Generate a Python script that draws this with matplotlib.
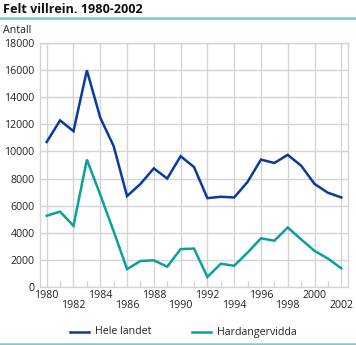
import matplotlib.pyplot as plt
from matplotlib.lines import Line2D

years = list(range(1980, 2003))
hele_landet = [10700, 12300, 11500, 16000, 12500, 10400, 6700, 7600, 8750, 8000,
               9650, 8850, 6550, 6650, 6600, 7750, 9400, 9150, 9750, 8950,
               7600, 6950, 6600]
hardangervidda = [5250, 5550, 4500, 9400, 6800, 4100, 1300, 1900, 1950, 1480,
                  2780, 2820, 720, 1700, 1550, 2520, 3580, 3400, 4380, 3500,
                  2650, 2080, 1360]
yticks = list(range(0, 18001, 2000))
xticks = list(range(1980, 2003, 2))

BLUE = "#0a3a9e"
TEAL = "#0aa09c"
RULE = "#78cccc"
GRID = "#d4d4d4"

W, H = 356, 345
fig = plt.figure(figsize=(W / 100, H / 100), dpi=100)
plt.rcParams["font.family"] = ["Open Sans", "DejaVu Sans"]

ax = fig.add_axes([40 / W, 1 - 286.7 / H, 308 / W, 243.4 / H])
ax.plot(years, hele_landet, color=BLUE, lw=1.8, solid_joinstyle="miter")
ax.plot(years, hardangervidda, color=TEAL, lw=1.8, solid_joinstyle="miter")

ax.set_xlim(1979.5, 2002.5)
ax.set_ylim(0, 18000)
ax.set_yticks(yticks)
ax.set_yticklabels([str(v) for v in yticks], fontsize=7.7, color="#222222")
ax.set_xticks(xticks)
ax.set_xticklabels([])
ax.set_xticks([y for y in years if y % 2], minor=True)
ax.tick_params(axis="y", length=0, pad=4)
ax.tick_params(axis="x", which="major", length=0)
ax.tick_params(axis="x", which="minor", direction="in", length=4, color=GRID, width=1)
ax.grid(True, which="major", color=GRID, lw=1)
ax.set_axisbelow(True)
for s in ax.spines.values():
    s.set_color(GRID)
    s.set_linewidth(1)

# staggered year labels
tr = ax.get_xaxis_transform()
for i, yr in enumerate(xticks):
    ax.text(yr, -3.5 / 243.4 - (10 / 243.4 if i % 2 else 0), str(yr), transform=tr,
            ha="center", va="top", fontsize=7.7, color="#222222")

fig.text(3 / W, 1 - 13 / H, "Felt villrein. 1980-2002", fontsize=9.1,
         fontweight="bold", ha="left", va="baseline", color="#111111")
fig.add_artist(Line2D([0, 1], [1 - 18 / H] * 2, color=RULE, lw=1.8))
fig.text(3 / W, 1 - 33 / H, "Antall", fontsize=7.7, ha="left", va="baseline",
         color="#222222")

# legend along the bottom
for x0, name, c in [(70, "Hele landet", BLUE), (192, "Hardangervidda", TEAL)]:
    fig.add_artist(Line2D([x0 / W, (x0 + 19) / W], [1 - 332 / H] * 2, color=c, lw=1.8))
    fig.text((x0 + 25) / W, 1 - 332 / H, name, fontsize=7.7, ha="left",
             va="center", color="#222222")
fig.add_artist(Line2D([0, 1], [1 - 343.5 / H] * 2, color=RULE, lw=1.8))

fig.savefig("out.png", dpi=100)
